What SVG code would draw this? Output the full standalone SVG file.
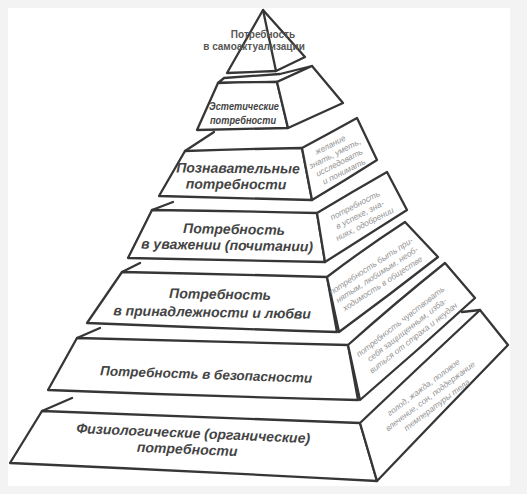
<svg xmlns="http://www.w3.org/2000/svg" width="527" height="494" viewBox="0 0 527 494">
<style>
.f{fill:#fff;stroke:#363636;stroke-width:2.3;stroke-linejoin:round;stroke-linecap:round}
.l{fill:none;stroke:#363636;stroke-width:2.3;stroke-linecap:round;stroke-linejoin:round}
.m{font-family:"Liberation Sans",Arial,sans-serif;font-weight:bold;font-style:italic;font-size:14px;fill:#444;text-anchor:middle}
.s{font-family:"Liberation Sans",Arial,sans-serif;font-style:italic;font-size:8.3px;fill:#939393;text-anchor:middle}
.t{font-family:"Liberation Sans",Arial,sans-serif;font-weight:bold;font-size:10px;fill:#575757;text-anchor:middle}
</style>
<rect width="527" height="494" fill="#f3f3f3"/>
<rect x="8" y="8" width="502" height="478" fill="#fff"/>

<g id="tier7">
<path class="f" d="M42,411 Q200,417 360,423 L377,481 Q190,471 10,463 Z"/>
<path class="f" d="M360,423 Q420,366 480,310 L508,345 Q440,415 377,481 Z"/>
<path class="l" d="M42,411 L72,398 M462,312 L480,310"/>
<text class="m" transform="translate(193,438) rotate(2.5)">Физиологические (органические)</text>
<text class="m" transform="translate(187,454) rotate(2.5)">потребности</text>
<g transform="translate(430,396) rotate(-37)">
<text class="s" y="-8">голод, жажда, половое</text>
<text class="s" y="3">влечение, сон, поддержание</text>
<text class="s" y="14">температуры тела</text>
</g>
</g>

<g id="tier6">
<path class="f" d="M77,338 Q210,341 348,345 L358,400 Q200,396 48,390 Z"/>
<path class="f" d="M348,345 Q395,303 445,263 L475,298 Q418,350 360,400 Z"/>
<path class="l" d="M77,338 L100,328"/>
<text class="m" transform="translate(206,379) rotate(2)" style="font-size:13.5px">Потребность в безопасности</text>
<g transform="translate(407,330) rotate(-38)">
<text class="s" y="-8">потребность чувствовать</text>
<text class="s" y="2.5">себя защищенным, изба-</text>
<text class="s" y="13">виться от страха и неудач</text>
</g>
</g>

<g id="tier5">
<path class="f" d="M122,272 Q225,274 327,277 L337,332 Q210,328 87,323 Z"/>
<path class="f" d="M327,277 Q365,248 405,222 L438,257 Q388,296 339,332 Z"/>
<path class="l" d="M122,272 L140,263"/>
<text class="m" transform="translate(220,299) rotate(1)">Потребность</text>
<text class="m" transform="translate(212,317) rotate(1)">в принадлежности и любви</text>
<g transform="translate(377,275) rotate(-33)">
<text class="s" y="-8">потребность быть при-</text>
<text class="s" y="2.5">нятым, любимым, необ-</text>
<text class="s" y="13">ходимость в обществе</text>
</g>
</g>

<g id="tier4">
<path class="f" d="M152,210 Q235,211 317,213 L325,262 Q225,260 128,258 Z"/>
<path class="f" d="M317,213 Q352,192 387,172 L407,210 Q366,236 325,262 Z"/>
<path class="l" d="M152,210 L173,202"/>
<text class="m" transform="translate(234,234) rotate(1)">Потребность</text>
<text class="m" transform="translate(227,250) rotate(1)">в уважении (почитании)</text>
<g transform="translate(360,215) rotate(-27)">
<text class="s" y="-8">потребность</text>
<text class="s" y="2.5">в успехе, зна-</text>
<text class="s" y="13">ниях, одобрении</text>
</g>
</g>

<g id="tier3">
<path class="f" d="M185,151 Q244,149 302,148 L312,200 Q235,198 159,196 Z"/>
<path class="f" d="M302,148 Q330,133 357,118 L377,160 Q344,181 312,200 Z"/>
<path class="l" d="M185,151 L214,132"/>
<text class="m" transform="translate(238,173) rotate(0.5)">Познавательные</text>
<text class="m" transform="translate(236,189) rotate(0.5)">потребности</text>
<g transform="translate(337,158) rotate(-27)">
<text class="s" y="-12">желание</text>
<text class="s" y="-2">знать, уметь,</text>
<text class="s" y="8">исследовать</text>
<text class="s" y="18">и понимать</text>
</g>
</g>

<g id="tier2">
<path class="f" d="M218,83 L224,78 L280,74 L312,66 L277,82 Z"/>
<path class="f" d="M218,83 Q248,82 277,82 L288,128 Q243,129 197,130 Z"/>
<path class="f" d="M277,82 L312,66 L343,103 L288,128 Z"/>
<text class="m" transform="translate(244,110) scale(0.8,1)" style="font-size:11.5px">Эстетические</text>
<text class="m" transform="translate(243,124) scale(0.8,1)" style="font-size:11.5px">потребности</text>
</g>

<g id="tier1">
<path class="f" d="M263,10 L227,73 L276,71 L305,57 Z"/>
<path class="l" d="M263,10 L276,71"/>
<text class="t" x="263" y="38">Потребность</text>
<text class="t" x="254" y="50">в самоактуализации</text>
</g>
</svg>
